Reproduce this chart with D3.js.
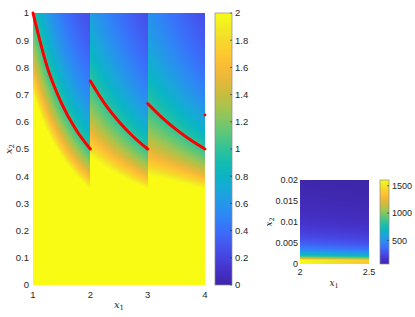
<!DOCTYPE html>
<html>
<head>
<meta charset="utf-8">
<script src="https://cdn.jsdelivr.net/npm/d3@7"></script>
<style>
body{margin:0;background:#fff}
text{font-family:"Liberation Sans",Arial,sans-serif;fill:#262626}
.lab{font-family:"DejaVu Serif","Liberation Serif",serif;font-style:italic}
</style>
</head>
<body>
<div id="container"></div>
<script>
// segment edges along x1 and curve constant of each segment (x2 = c / x1)
var segEdges = [1, 2, 3, 4]
var segC = [1, 1.5, 2]
// surface f = (c/(x1*x2))^p, p read at left / right edge of each segment
var pLeft = [2.0, 1.5, 1.38]
var pRight = [2.0, 2.0, 2.0]
var climMain = [0, 2]
var xTicksMain = [1, 2, 3, 4]
var yTicksMain = [0, 0.1, 0.2, 0.3, 0.4, 0.5, 0.6, 0.7, 0.8, 0.9, 1]
var cbTicksMain = [0, 0.2, 0.4, 0.6, 0.8, 1, 1.2, 1.4, 1.6, 1.8, 2]

// red curves
var curve1 = [[1,1],[1.25,0.8],[1.5,0.667],[1.75,0.571],[2,0.5]]
var curve2 = [[2,0.75],[2.25,0.667],[2.5,0.6],[2.75,0.545],[3,0.5]]
var curve3 = [[3,0.667],[3.25,0.615],[3.5,0.571],[3.75,0.533],[4,0.5]]
var nextStart = [[4,0.625]]

// zoomed panel: x1 in [2,2.5], x2 in [0,0.02]
var smallX = [2, 2.5]
var smallY = [0, 0.02]
var fitSmall = [0.48, 1.5, 0.001]   // a0, a1, smallest x2 on grid
var smallC = 1.5
var xTicksSmall = [2, 2.5]
var yTicksSmall = [0, 0.005, 0.01, 0.015, 0.02]
var cbTicksSmall = [500, 1000, 1500]

// parula stops
var parula = ["#3e26a8","#4530c6","#4743e0","#4458f0","#3a6ffb","#2f85f6",
  "#2497e9","#18a8d8","#0ab4c6","#14bcb0","#31c298","#55c67f","#7dc665",
  "#a5c44f","#c6bd3f","#e4b83a","#f8bb36","#fdc830","#f5d92a","#f2ec22","#f9fb15"]

var svg = d3.select("#container").append("svg").attr("width",415).attr("height",317)
svg.append("rect").attr("width",415).attr("height",317).attr("fill","#fff")

function colorScale(lo,hi){
    var dom = parula.map(function(d,i){return lo+(hi-lo)*i/(parula.length-1)})
    return d3.scaleLinear().domain(dom).range(parula).interpolate(d3.interpolateRgb).clamp(true)
}

function heat(xs,ys,fn,col){
    var x0 = Math.round(xs.range()[0]), x1 = Math.round(xs.range()[1])
    var y1 = Math.round(ys.range()[0]), y0 = Math.round(ys.range()[1])
    var w = x1-x0, h = y1-y0
    var cv = document.createElement("canvas")
    cv.width = w; cv.height = h
    var ctx = cv.getContext("2d")
    var img = ctx.createImageData(w,h)
    for(var j=0;j<h;j++){
        var v2 = ys.invert(y0+j+0.5)
        for(var i=0;i<w;i++){
            var v1 = xs.invert(x0+i+0.5)
            var c = d3.rgb(col(fn(v1,v2)))
            var k = (j*w+i)*4
            img.data[k]=c.r; img.data[k+1]=c.g; img.data[k+2]=c.b; img.data[k+3]=255
        }
    }
    ctx.putImageData(img,0,0)
    svg.append("image").attr("x",x0).attr("y",y0).attr("width",w).attr("height",h)
        .attr("preserveAspectRatio","none").attr("href",cv.toDataURL())
}

function colorbar(x,w,ys,col,ticks,fs){
    var top = ys.range()[1], bot = ys.range()[0]
    var cv = document.createElement("canvas")
    var h = Math.round(bot-top)
    cv.width = 1; cv.height = h
    var ctx = cv.getContext("2d")
    for(var j=0;j<h;j++){
        ctx.fillStyle = col(ys.invert(top+j+0.5))
        ctx.fillRect(0,j,1,1)
    }
    svg.append("image").attr("x",x).attr("y",top).attr("width",w).attr("height",h)
        .attr("preserveAspectRatio","none").attr("href",cv.toDataURL())
    svg.append("rect").attr("x",x).attr("y",top).attr("width",w).attr("height",h)
        .attr("fill","none").attr("stroke","#8a8a8a").attr("stroke-width",0.7)
    ticks.forEach(function(t){
        svg.append("line").attr("x1",x+w-2).attr("x2",x+w).attr("y1",ys(t)).attr("y2",ys(t))
            .attr("stroke","#262626").attr("stroke-width",0.6)
        svg.append("text").attr("x",x+w+3).attr("y",ys(t)).attr("dy","0.35em")
            .style("font-size",fs+"px").text(t)
    })
}

// ---------- main plot ----------
var xScale = d3.scaleLinear().domain([1,4]).range([33,205])
var yScale = d3.scaleLinear().domain([0,1]).range([285,13])
var colMain = colorScale(climMain[0],climMain[1])

function segIndex(x1){
    for(var s=0;s<segC.length;s++){ if(x1<segEdges[s+1]) return s }
    return segC.length-1
}
heat(xScale,yScale,function(x1,x2){
    var s = segIndex(x1)
    var t = (x1-segEdges[s])/(segEdges[s+1]-segEdges[s])
    var p = pLeft[s]+(pRight[s]-pLeft[s])*t
    return Math.pow(segC[s]/(x1*x2),p)
},colMain)

var line = d3.line().curve(d3.curveMonotoneX)
    .x(function(d){return xScale(d[0])})
    .y(function(d){return yScale(d[1])})
;[curve1,curve2,curve3].forEach(function(c){
    svg.append("path").attr("d",line(c)).attr("fill","none")
        .attr("stroke","#ff0000").attr("stroke-width",3).attr("stroke-linecap","round")
})
svg.selectAll(".nxt").data(nextStart).enter().append("circle")
    .attr("cx",function(d){return xScale(d[0])}).attr("cy",function(d){return yScale(d[1])})
    .attr("r",1.4).attr("fill","#ff0000")

svg.selectAll(".xt").data(xTicksMain).enter().append("text")
    .attr("x",function(d){return xScale(d)}).attr("y",298)
    .attr("text-anchor","middle").style("font-size","9.5px").text(function(d){return d})
svg.selectAll(".yt").data(yTicksMain).enter().append("text")
    .attr("x",29).attr("y",function(d){return yScale(d)}).attr("dy","0.35em")
    .attr("text-anchor","end").style("font-size","9.5px").text(function(d){return d})

var xl = svg.append("text").attr("class","lab").attr("x",119).attr("y",308)
    .attr("text-anchor","middle").style("font-size","10px")
xl.append("tspan").text("x")
xl.append("tspan").attr("dy",2).style("font-size","7px").style("font-style","normal").text("1")
var yl = svg.append("text").attr("class","lab").attr("transform","translate(12,149) rotate(-90)")
    .attr("text-anchor","middle").style("font-size","10px")
yl.append("tspan").text("x")
yl.append("tspan").attr("dy",2).style("font-size","7px").style("font-style","normal").text("2")

var cbScale = d3.scaleLinear().domain(climMain).range([285,13])
colorbar(215,17,cbScale,colMain,cbTicksMain,9.5)

// ---------- zoomed panel ----------
var sx = d3.scaleLinear().domain(smallX).range([300,369])
var sy = d3.scaleLinear().domain(smallY).range([264,180])
function fSmall(x1,x2){
    return (fitSmall[0]+fitSmall[1]*smallC/x1)/Math.max(x2,fitSmall[2])
}
var sMin = fSmall(smallX[1],smallY[1]), sMax = fSmall(smallX[0],smallY[0])
var colSmall = colorScale(sMin,sMax)
heat(sx,sy,fSmall,colSmall)

svg.selectAll(".sxt").data(xTicksSmall).enter().append("text")
    .attr("x",function(d){return sx(d)}).attr("y",275)
    .attr("text-anchor","middle").style("font-size","9px").text(function(d){return d})
svg.selectAll(".syt").data(yTicksSmall).enter().append("text")
    .attr("x",298).attr("y",function(d){return sy(d)}).attr("dy","0.35em")
    .attr("text-anchor","end").style("font-size","9px").text(function(d){return d})
var sxl = svg.append("text").attr("class","lab").attr("x",334).attr("y",286)
    .attr("text-anchor","middle").style("font-size","9px")
sxl.append("tspan").text("x")
sxl.append("tspan").attr("dy",2).style("font-size","6.5px").style("font-style","normal").text("1")
var syl = svg.append("text").attr("class","lab").attr("transform","translate(272,222) rotate(-90)")
    .attr("text-anchor","middle").style("font-size","9px")
syl.append("tspan").text("x")
syl.append("tspan").attr("dy",2).style("font-size","6.5px").style("font-style","normal").text("2")

var scb = d3.scaleLinear().domain([sMin,sMax]).range([264,180])
colorbar(380,9,scb,colSmall,cbTicksSmall,9)
</script>
</body>
</html>
